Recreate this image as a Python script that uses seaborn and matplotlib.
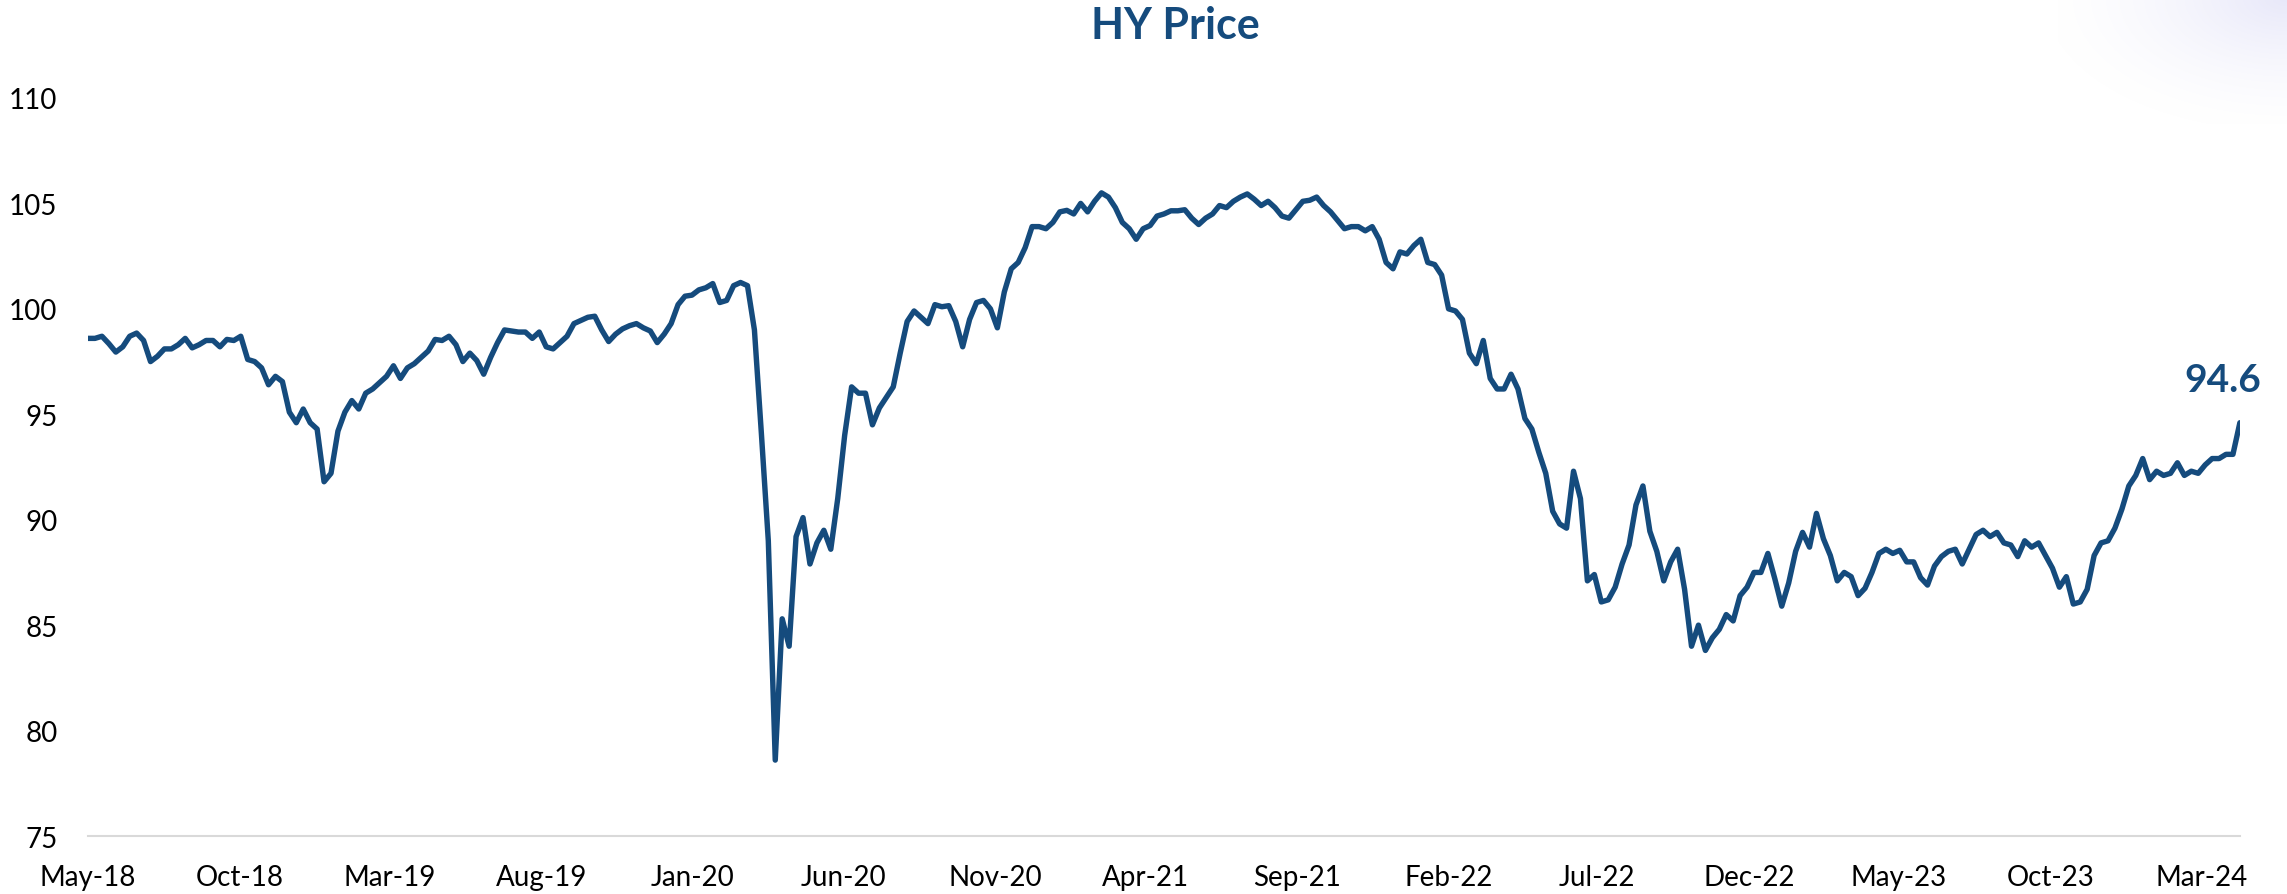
import numpy as np
import pandas as pd
import matplotlib
matplotlib.use('Agg')
import matplotlib.pyplot as plt
import matplotlib.dates as mdates
import seaborn as sns

# weekly HY price (starting 1 May 2018)
hy_2018 = [98.6, 98.6, 98.7, 98.35, 97.95, 98.2, 98.7, 98.85, 98.5, 97.5,
           97.75, 98.1, 98.1, 98.3, 98.6, 98.15, 98.3, 98.5, 98.5, 98.2,
           98.55, 98.5, 98.7, 97.6, 97.5, 97.2, 96.4, 96.8, 96.55, 95.1,
           94.6, 95.25, 94.6, 94.3, 91.8]
hy_2019 = [92.2, 94.2, 95.1, 95.65, 95.25, 96.0, 96.2, 96.5, 96.8, 97.3,
           96.7, 97.2, 97.4, 97.7, 98.0, 98.55, 98.5, 98.7, 98.3, 97.5,
           97.9, 97.55, 96.9, 97.7, 98.4, 99.0, 98.95, 98.9, 98.9, 98.6,
           98.9, 98.2, 98.1, 98.4, 98.7, 99.3, 99.45, 99.6, 99.65, 99.0,
           98.45, 98.8, 99.05, 99.2, 99.3, 99.1, 98.95, 98.4, 98.8, 99.3,
           100.2, 100.6, 100.65]
hy_2020 = [100.9, 101.0, 101.2, 100.3, 100.4, 101.1, 101.25, 101.1, 99.0, 94.1,
           89.0, 78.6, 85.3, 84.0, 89.2, 90.1, 87.9, 88.9, 89.5, 88.6,
           91.0, 94.0, 96.3, 96.0, 96.0, 94.5, 95.3, 95.8, 96.3, 97.9,
           99.4, 99.9, 99.6, 99.3, 100.2, 100.1, 100.15, 99.4, 98.2, 99.5,
           100.3, 100.4, 100.0, 99.1, 100.8, 101.9, 102.2, 102.9, 103.9, 103.9,
           103.8, 104.1]
hy_2021 = [104.6, 104.67, 104.5, 105.0, 104.6, 105.1, 105.5, 105.3, 104.8, 104.1,
           103.8, 103.3, 103.8, 103.95, 104.4, 104.5, 104.65, 104.65, 104.7, 104.3,
           104.0, 104.3, 104.5, 104.9, 104.8, 105.1, 105.3, 105.45, 105.2, 104.9,
           105.1, 104.8, 104.4, 104.3, 104.7, 105.1, 105.15, 105.3, 104.9, 104.6,
           104.2, 103.8, 103.9, 103.9, 103.7, 103.9, 103.3, 102.2, 101.9, 102.7,
           102.6, 103.0]
hy_2022 = [103.3, 102.2, 102.1, 101.6, 100.0, 99.9, 99.5, 97.9, 97.4, 98.5,
           96.7, 96.2, 96.2, 96.9, 96.2, 94.8, 94.3, 93.2, 92.2, 90.4,
           89.8, 89.6, 92.3, 91.0, 87.1, 87.4, 86.1, 86.2, 86.8, 87.9,
           88.8, 90.7, 91.6, 89.45, 88.5, 87.1, 88.0, 88.6, 86.7, 84.0,
           85.0, 83.8, 84.4, 84.8, 85.5, 85.2, 86.4, 86.8, 87.5, 87.5,
           88.4, 87.2]
hy_2023 = [85.9, 87.0, 88.5, 89.4, 88.7, 90.3, 89.1, 88.3, 87.1, 87.5,
           87.3, 86.4, 86.75, 87.5, 88.4, 88.6, 88.4, 88.55, 88.0, 88.0,
           87.25, 86.9, 87.8, 88.25, 88.5, 88.6, 87.9, 88.6, 89.3, 89.5,
           89.2, 89.4, 88.9, 88.8, 88.25, 89.0, 88.7, 88.9, 88.3, 87.7,
           86.8, 87.3, 86.0, 86.1, 86.7, 88.3, 88.9, 89.0, 89.6, 90.5,
           91.6, 92.1]
hy_2024 = [92.9, 91.9, 92.3, 92.1, 92.2, 92.7, 92.1, 92.3, 92.2, 92.6,
           92.9, 92.9, 93.1, 93.1, 94.6]

y_ticks = [75, 80, 85, 90, 95, 100, 105, 110]

values = hy_2018 + hy_2019 + hy_2020 + hy_2021 + hy_2022 + hy_2023 + hy_2024
dates = pd.date_range('2018-05-01', periods=len(values), freq='7D')
df = pd.DataFrame({'date': dates, 'price': values})

sns.set_theme(style='white')
plt.rcParams['font.family'] = ['Lato', 'DejaVu Sans']

navy = '#154B7D'

fig = plt.figure(figsize=(22.87, 8.95), dpi=100)

# faint lavender tint in the top right corner
corner = fig.add_axes([0.90, 0.86, 0.10, 0.14])
gx, gy = np.meshgrid(np.linspace(0, 1, 200), np.linspace(0, 1, 200))
glow = np.clip(1 - np.hypot(1 - gx, gy) / 1.1, 0, 1) ** 1.6
rgba = np.zeros((200, 200, 4))
rgba[..., 0], rgba[..., 1], rgba[..., 2] = 0.88, 0.88, 0.97
rgba[..., 3] = glow * 0.75
corner.imshow(rgba, aspect='auto', origin='upper')
corner.axis('off')

ax = fig.add_axes([0.0385, 0.0648, 0.9409, 0.8246])
ax.patch.set_alpha(0)
sns.lineplot(data=df, x='date', y='price', ax=ax, color=navy, linewidth=3.9)

ax.set_xlim(dates[0], dates[-1])
ax.set_ylim(75, 110)
ax.set_yticks(y_ticks)
ax.set_xticks(pd.date_range('2018-05-01', periods=15, freq='5MS'))
ax.xaxis.set_major_formatter(mdates.DateFormatter('%b-%y'))
ax.set_xlabel('')
ax.set_ylabel('')

for side in ['top', 'right', 'left']:
    ax.spines[side].set_visible(False)
ax.spines['bottom'].set_color('#D9D9D9')
ax.spines['bottom'].set_linewidth(1.5)
ax.tick_params(axis='both', length=0, labelsize=20, colors='black')
ax.tick_params(axis='x', pad=20)
ax.tick_params(axis='y', pad=22)

# last value label
ax.annotate(f'{values[-1]:.1f}', xy=(dates[-1], values[-1]), xytext=(-12, 31),
            textcoords='offset points', ha='center', va='center',
            fontsize=28, fontweight='bold', color=navy)

fig.text(0.514, 0.971, 'HY Price', ha='center', va='center',
         fontsize=31, fontweight='bold', color=navy)

fig.savefig('out.png', dpi=100)
